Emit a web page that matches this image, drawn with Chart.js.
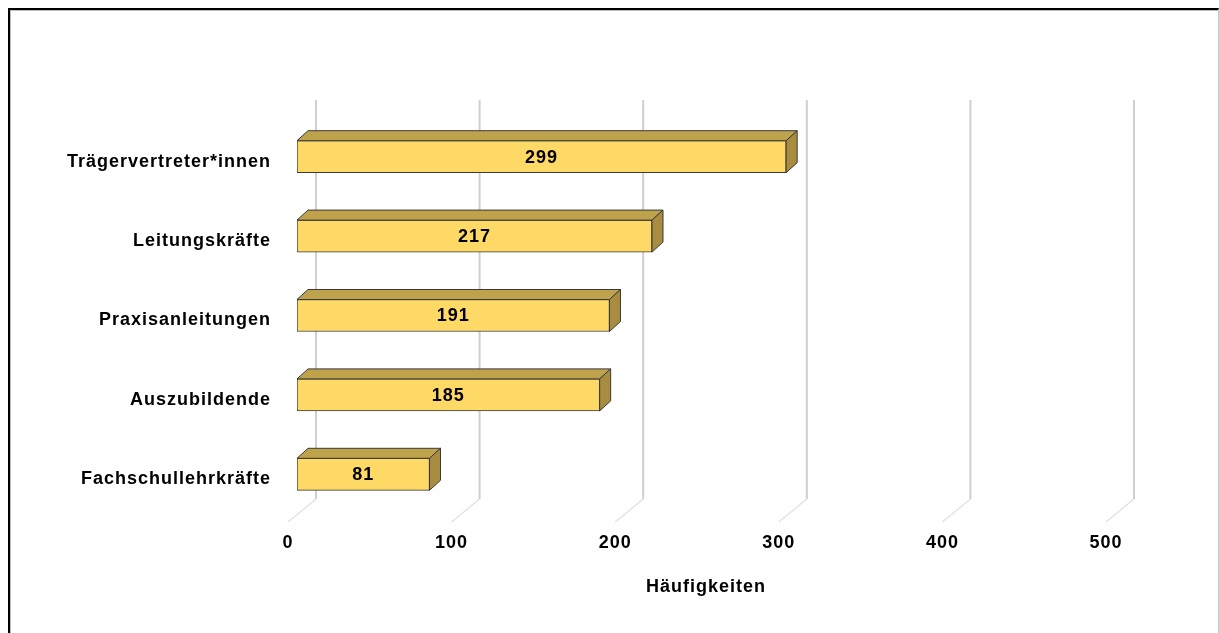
<!DOCTYPE html>
<html>
<head>
<meta charset="utf-8">
<script src="https://cdn.jsdelivr.net/npm/chart.js@4/dist/chart.umd.min.js"></script>
<style>
  html, body { margin: 0; padding: 0; background: #fff; }
  #wrap { position: relative; width: 1219px; height: 633px; overflow: hidden; }
  #frame {
    position: absolute; left: 8px; top: 8px; width: 1208px; height: 640px;
    border-left: 2px solid #000; border-top: 2px solid #000;
    border-right: 1px solid #c8c8c8;
    box-shadow: inset 1px 1px 0 #bdbdbd;
    pointer-events: none;
  }
</style>
</head>
<body>
<div id="wrap">
  <canvas id="chart" width="1219" height="633"></canvas>
  <div id="frame"></div>
</div>
<script>
// groups and counts
const categories = ['Trägervertreter*innen', 'Leitungskräfte', 'Praxisanleitungen', 'Auszubildende', 'Fachschullehrkräfte'];
const counts = [299, 217, 191, 185, 81];
const xTicks = [0, 100, 200, 300, 400, 500];
const xTitle = 'Häufigkeiten';

const FONT = 'Liberation Sans, Arial, sans-serif';
const DEPTH_X = 11, DEPTH_Y = 10;   // bar depth
const WALL_X = 19, WALL_Y = 15;     // back wall offset for gridlines

// gridlines on the back wall, with the little floor lines
const wallGrid = {
    id: 'wallGrid',
    beforeDatasetsDraw(chart) {
        const { ctx, chartArea, scales } = chart;
        ctx.save();
        xTicks.forEach(v => {
            const px = scales.x.getPixelForValue(v);
            const gx = px + WALL_X;
            ctx.strokeStyle = '#cfcfcf';
            ctx.lineWidth = 2;
            ctx.beginPath();
            ctx.moveTo(gx, chartArea.top - 17);
            ctx.lineTo(gx, chartArea.bottom - WALL_Y);
            ctx.stroke();
            ctx.strokeStyle = '#e2e2e2';
            ctx.lineWidth = 1.5;
            ctx.beginPath();
            ctx.moveTo(gx, chartArea.bottom - WALL_Y);
            ctx.lineTo(px - 9, chartArea.bottom + 8);
            ctx.stroke();
        });
        ctx.restore();
    }
};

// top and side faces of each bar, then the value inside
const bars3d = {
    id: 'bars3d',
    afterDatasetsDraw(chart) {
        const { ctx } = chart;
        const meta = chart.getDatasetMeta(0);
        ctx.save();
        ctx.letterSpacing = '1px';
        ctx.lineWidth = 1;
        ctx.strokeStyle = '#3a3a3a';
        ctx.lineJoin = 'round';
        meta.data.forEach((bar, i) => {
            const { x, y, base, height } = bar.getProps(['x', 'y', 'base', 'height'], true);
            const x0 = base, x1 = x;
            const yt = y - height / 2, yb = y + height / 2;
            // top face
            ctx.fillStyle = '#bfa24c';
            ctx.beginPath();
            ctx.moveTo(x0, yt);
            ctx.lineTo(x0 + DEPTH_X, yt - DEPTH_Y);
            ctx.lineTo(x1 + DEPTH_X, yt - DEPTH_Y);
            ctx.lineTo(x1, yt);
            ctx.closePath();
            ctx.fill();
            ctx.stroke();
            // side face
            ctx.fillStyle = '#a88c40';
            ctx.beginPath();
            ctx.moveTo(x1, yt);
            ctx.lineTo(x1 + DEPTH_X, yt - DEPTH_Y);
            ctx.lineTo(x1 + DEPTH_X, yb - DEPTH_Y);
            ctx.lineTo(x1, yb);
            ctx.closePath();
            ctx.fill();
            ctx.stroke();
            // value label
            ctx.fillStyle = '#000';
            ctx.font = 'bold 18px ' + FONT;
            ctx.textAlign = 'center';
            ctx.textBaseline = 'middle';
            ctx.fillText(String(counts[i]), (x0 + x1) / 2, y + 1);
        });
        ctx.restore();
    }
};

const spacing = {
    id: 'spacing',
    beforeDraw(chart) { chart.ctx.letterSpacing = '1px'; }
};

new Chart(document.getElementById('chart'), {
    type: 'bar',
    data: {
        labels: categories,
        datasets: [{
            data: counts,
            backgroundColor: '#ffd966',
            borderColor: '#3a3a3a',
            borderWidth: 1,
            borderSkipped: false,
            barThickness: 32
        }]
    },
    options: {
        indexAxis: 'y',
        responsive: false,
        animation: false,
        events: [],
        layout: { padding: { top: 117, right: 104, bottom: 0, left: 0 } },
        scales: {
            x: {
                min: 0,
                max: 500,
                afterBuildTicks: s => { s.ticks = xTicks.map(v => ({ value: v })); },
                afterFit: s => { s.height = 119; },
                grid: { display: false, drawTicks: false },
                border: { display: false },
                ticks: {
                    color: '#000',
                    font: { family: FONT, size: 18, weight: 'bold' },
                    padding: 18,
                    labelOffset: -9
                },
                title: {
                    display: true,
                    text: xTitle,
                    color: '#000',
                    font: { family: FONT, size: 18, weight: 'bold' },
                    padding: { top: 0, bottom: 35 }
                }
            },
            y: {
                afterFit: s => { s.width = 297; },
                grid: { display: false, drawTicks: false },
                border: { display: false },
                ticks: {
                    color: '#000',
                    font: { family: FONT, size: 18, weight: 'bold' },
                    padding: 26,
                    labelOffset: 5
                }
            }
        },
        plugins: {
            legend: { display: false },
            tooltip: { enabled: false }
        }
    },
    plugins: [spacing, wallGrid, bars3d]
});
</script>
</body>
</html>
